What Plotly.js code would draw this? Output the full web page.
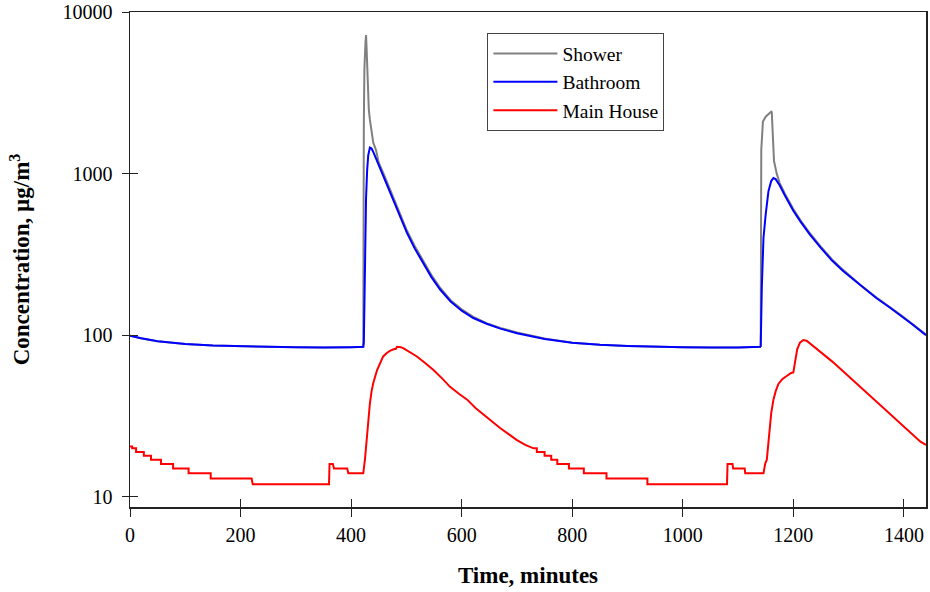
<!DOCTYPE html>
<html>
<head>
<meta charset="utf-8">
<script src="https://cdn.plot.ly/plotly-3.0.1.min.js"></script>
<style>html,body{margin:0;padding:0;background:#fff;}#chart{width:930px;height:592px;}</style>
</head>
<body>
<div id="chart"></div>
<script>
// ---- data (minutes, µg/m3) ----
const bathT = [0,20,50,100,150,200,250,300,350,400,422,423,425,427,429,431,434,437,441,450,460,470,485,501,515,531,545,561,580,600,621,645,670,700,750,800,850,900,950,1000,1050,1100,1140,1141,1143,1146,1150,1155,1160,1164,1168,1175,1185,1200,1213,1230,1249,1270,1290,1304,1325,1350,1375,1394,1415,1440];
const bathV = [99.5,96,92,88.5,86.5,85.5,85,84.5,84,84.5,85,90,300,700,1050,1300,1450,1430,1340,1130,940,775,580,430,345,275,230,192,162,142,128,118,110,103,95,90,87.5,86,85,84.5,84,84,85,86,200,400,560,780,900,940,925,850,730,590,505,420,350,290,250,228,198,170,148,133,117,100];

const showT = [0,20,50,100,150,200,250,300,350,400,422,423,424,426,427,428,430,432,434,437,440,445,450,460,470,485,501,515,531,545,561,580,600,621,645,670,700,750,800,850,900,950,1000,1050,1100,1140,1141,1142,1145,1150,1155,1160,1161,1163,1165,1170,1175,1185,1200,1213,1230,1249,1270,1290,1304,1325,1350,1375,1394,1415,1440];
const showV = [99.5,96,92,88.5,86.5,85.5,85,84.5,84,84.5,85,2000,4400,6500,7200,6000,3500,2500,2150,1800,1560,1400,1170,975,800,600,445,357,284,237,197,165,145,130,119,111,104,95.5,90,87.5,86,85,84.5,84,84,85,86,1400,2100,2250,2330,2420,2400,1500,1200,1000,880,750,605,515,428,356,295,254,231,200,172,150,134,118,101];

const houseT = [0,4,4,11,11,25,25,38,38,56,56,78,78,106,106,146,146,220,222,360,361,367,369,393,395,422,425,428,431,434,437,440,447,453,458,465,471,477,481,483,490,495,505,519,535,549,565,579,595,610,625,640,655,670,685,700,715,730,736,736,750,750,762,762,773,773,794,794,821,821,862,862,936,936,1080,1081,1090,1091,1112,1113,1146,1149,1152,1156,1160,1164,1168,1173,1180,1188,1196,1200,1203,1207,1212,1218,1224,1232,1250,1270,1290,1310,1330,1350,1370,1390,1400,1410,1420,1430,1440];
const houseV = [20.5,20.5,20,20,19,19,18,18,17,17,16,16,15,15,14,14,13,13,12,12,16,16,15,15,14,14,17,22.5,30,38,45,50.5,61,68,74,78,80.5,82,82.5,85,84.5,83,79.5,74,67,61,54,48,43.5,40,35.5,32.2,29,26.6,24.5,22.5,21,20,20,19,19,18,18,17,17,16,16,15,15,14,14,13,13,12,12,16,16,15,15,14,14,16,17,24,33,40,45,50,53.5,56,58.5,59,70,82,90,93.5,92.5,88,79,69,60,52,45,39,34,29.5,27.5,25.5,23.5,22,21];

const xTicks = [0,200,400,600,800,1000,1200,1400];
const yTicks = [10,100,1000,10000];
const yTickText = ['10','100','1000','10000'];

const serif = 'Liberation Serif, Times New Roman, serif';
const axisCol = '#222';

const traces = [
  {x: showT, y: showV, name: 'Shower', mode: 'lines', line: {color: '#808080', width: 2}},
  {x: bathT, y: bathV, name: 'Bathroom', mode: 'lines', line: {color: '#0000ff', width: 2}},
  {x: houseT, y: houseV, name: 'Main House', mode: 'lines', line: {color: '#ff0000', width: 2}},
  {x: [0], y: [null], xaxis: 'x2', yaxis: 'y2', showlegend: false, hoverinfo: 'skip'}
];

const yRange = [Math.log10(8.67), 4];

const layout = {
  width: 930, height: 592,
  margin: {l: 130, r: 4, t: 12, b: 85},
  paper_bgcolor: '#fff', plot_bgcolor: '#fff',
  font: {family: serif, size: 20, color: '#000'},
  showlegend: true,
  legend: {
    x: 0.449, y: 0.957, xanchor: 'left', yanchor: 'top',
    bordercolor: '#444', borderwidth: 1, bgcolor: '#fff',
    font: {family: serif, size: 19.5, color: '#000'},
    tracegroupgap: 0, itemwidth: 64, entrywidth: 185, entrywidthmode: 'pixels'
  },
  xaxis: {
    range: [0, 1440], tickvals: xTicks, ticktext: xTicks.map(String),
    ticks: 'outside', ticklen: 8, tickwidth: 1, tickcolor: axisCol,
    showline: true, linecolor: axisCol, linewidth: 1.5, mirror: true,
    showgrid: false, zeroline: false, ticklabelstandoff: 1,
    tickfont: {family: serif, size: 20},
    title: {text: '<b>Time, minutes</b>', font: {family: serif, size: 23}, standoff: 22}
  },
  yaxis: {
    type: 'log', range: yRange, tickvals: yTicks, ticktext: yTickText,
    ticks: 'outside', ticklen: 7, tickwidth: 1, tickcolor: axisCol,
    showline: true, linecolor: axisCol, linewidth: 1.5, mirror: true,
    showgrid: false, zeroline: false, ticklabelstandoff: 5,
    tickfont: {family: serif, size: 20},
    title: {text: '<b>Concentration, µg/m<sup>3</sup></b>', font: {family: serif, size: 23}, standoff: 26}
  },
  xaxis2: {
    overlaying: 'x', side: 'bottom', range: [0, 1440], tickvals: xTicks,
    ticks: 'inside', ticklen: 8, tickwidth: 1, tickcolor: axisCol,
    showticklabels: false, showline: false, showgrid: false, zeroline: false
  },
  yaxis2: {
    overlaying: 'y', side: 'left', type: 'log', range: yRange, tickvals: yTicks,
    ticks: 'inside', ticklen: 8, tickwidth: 1, tickcolor: axisCol,
    showticklabels: false, showline: false, showgrid: false, zeroline: false
  }
};

Plotly.newPlot('chart', traces, layout, {displayModeBar: false, staticPlot: true});
</script>
</body>
</html>
